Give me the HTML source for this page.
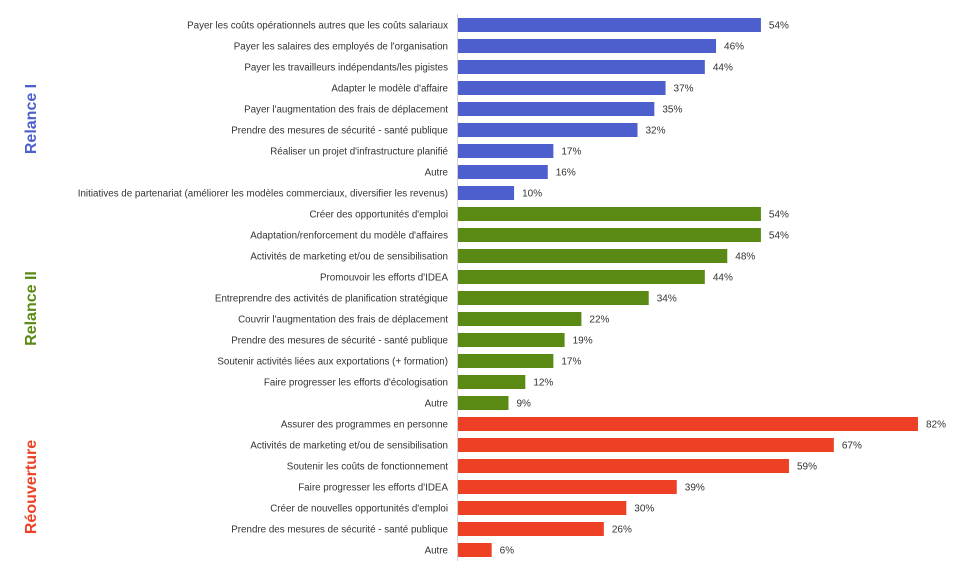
<!DOCTYPE html>
<html><head><meta charset="utf-8"><style>
body{margin:0;background:#fff;width:960px;height:572px;overflow:hidden}
svg text{font-family:"Liberation Sans",sans-serif}
</style></head><body>
<svg id="chart" width="960" height="572"></svg>
<script>
const categories=["Payer les coûts opérationnels autres que les coûts salariaux","Payer les salaires des employés de l'organisation","Payer les travailleurs indépendants/les pigistes","Adapter le modèle d'affaire","Payer l'augmentation des frais de déplacement","Prendre des mesures de sécurité - santé publique","Réaliser un projet d'infrastructure planifié","Autre","Initiatives de partenariat (améliorer les modèles commerciaux, diversifier les revenus)",
"Créer des opportunités d'emploi","Adaptation/renforcement du modèle d'affaires","Activités de marketing et/ou de sensibilisation","Promouvoir les efforts d'IDEA","Entreprendre des activités de planification stratégique","Couvrir l'augmentation des frais de déplacement","Prendre des mesures de sécurité - santé publique","Soutenir activités liées aux exportations (+ formation)","Faire progresser les efforts d'écologisation","Autre",
"Assurer des programmes en personne","Activités de marketing et/ou de sensibilisation","Soutenir les coûts de fonctionnement","Faire progresser les efforts d'IDEA","Créer de nouvelles opportunités d'emploi","Prendre des mesures de sécurité - santé publique","Autre"];
const values=[54,46,44,37,35,32,17,16,10,54,54,48,44,34,22,19,17,12,9,82,67,59,39,30,26,6];
const groups=["Relance I","Relance II","Réouverture"];
const groupSizes=[9,10,7];
const groupColors=["#4c5fcc","#5a8a14","#ee4024"];
const svg=document.getElementById('chart');
const NS='http://www.w3.org/2000/svg';
const x0=458, pxPer=460/82, y0=25, step=21, bh=14;
const xs=v=>x0+v*pxPer;
const ys=i=>y0+i*step;
function mk(t,a){const e=document.createElementNS(NS,t);for(const k in a)e.setAttribute(k,a[k]);svg.appendChild(e);return e;}
const ax=mk('line',{x1:457.5,x2:457.5,y1:14,y2:561,stroke:'#d0d0d0','stroke-width':1});


let idx=0;
groups.forEach((g,gi)=>{
  const start=idx;
  for(let k=0;k<groupSizes[gi];k++,idx++){
    const y=ys(idx);
    const r=mk('rect',{x:x0,y:y-bh/2,width:xs(values[idx])-x0,height:bh,fill:groupColors[gi]});
    
    
    const l=mk('text',{x:448,y:y+3.5,'text-anchor':'end','font-size':'9.8',fill:'#333'});
    l.textContent=categories[idx];
    
    
    const v=mk('text',{x:xs(values[idx])+8,y:y+3.5,'font-size':'10',fill:'#333'});
    v.textContent=values[idx]+'%';
    
    
  }
  let cy=(ys(start)+ys(idx-1))/2;
  if(gi===0) cy+=10;
  const gt=mk('text',{x:0,y:0,transform:`translate(36,${cy}) rotate(-90)`,'text-anchor':'middle','font-size':'16','font-weight':'bold',fill:groupColors[gi]});
  gt.textContent=g;
  
  
});
</script>
</body></html>
